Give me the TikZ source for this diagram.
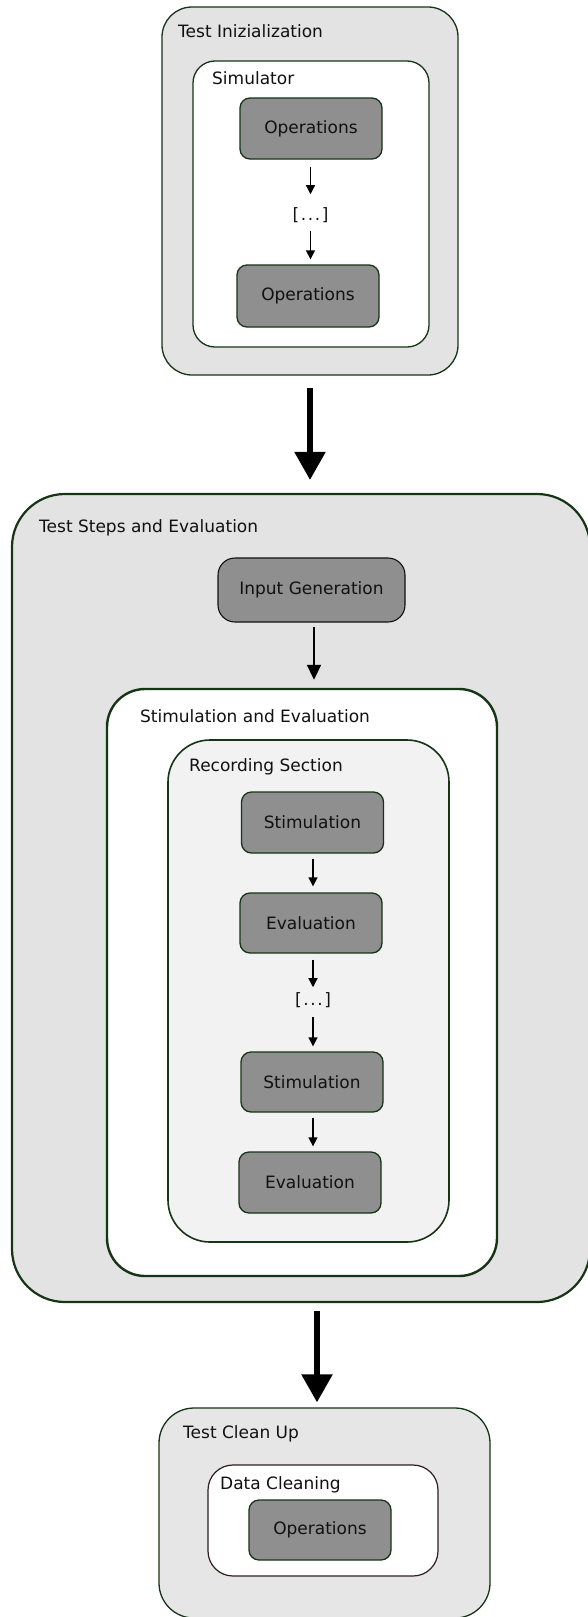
\documentclass[tikz,border=0pt]{standalone}
\usepackage{fontspec}
\setmainfont{DejaVu Sans}
\usetikzlibrary{arrows.meta}

\definecolor{frame}{RGB}{22,52,22}
\definecolor{brownframe}{RGB}{48,28,28}
\definecolor{opfill}{RGB}{143,143,143}
\definecolor{outerfill}{RGB}{227,227,227}
\definecolor{cleanfill}{RGB}{230,230,230}
\definecolor{recfill}{RGB}{242,242,242}
\definecolor{ink}{RGB}{17,17,17}

\newcommand{\skipdots}{[\kern1.6pt.\kern1.6pt.\kern1.6pt.\kern1.6pt]}

\tikzset{
  every node/.style={font=\fontsize{17}{20}\selectfont, text=ink},
  container/.style={draw=frame, rectangle, inner sep=0pt},
  opbox/.style={draw=frame, fill=opfill, line width=1.3pt, rounded corners=10pt,
    minimum width=142pt, minimum height=61pt, inner sep=0pt},
  title/.style={anchor=base west, inner sep=0pt},
  ellipsis/.style={inner sep=0pt},
  sarrow/.style={line width=1.3pt, -{Triangle[width=9pt,length=9pt]}},
  marrow/.style={line width=2pt, -{Triangle[width=14pt,length=15pt]}},
  barrow/.style={line width=5.5pt, -{Triangle[width=30pt,length=28pt]}},
}

\begin{document}
\begin{tikzpicture}[x=1pt,y=-1pt]
\useasboundingbox (0,0) rectangle (587,1617);

% ---------- Test initialization ----------
\node[container, fill=outerfill, line width=1.3pt, rounded corners=30pt,
      minimum width=296pt, minimum height=368pt] (init) at (310,191) {};
\node[title] (initlbl) at (178,37) {Test Inizialization};
\node[container, fill=white, line width=1.3pt, rounded corners=22pt,
      minimum width=236pt, minimum height=286pt] (sim) at (311,204) {};
\node[title] (simlbl) at (212,84) {Simulator};
\node[opbox] (op1) at (311,128.5) {Operations};
\node[ellipsis] (dots1) at (310.5,215) {\skipdots};
\node[opbox, minimum height=62pt] (op2) at (308,296) {Operations};
\draw[sarrow, shorten <=7pt, shorten >=13pt] (dots1.north |- op1.south) -- (dots1.north);
\draw[sarrow, shorten <=8pt, shorten >=5pt] (dots1.south) -- (dots1.south |- op2.north);

% ---------- Test steps and evaluation ----------
\node[container, fill=outerfill, line width=2.2pt, rounded corners=53pt,
      minimum width=578pt, minimum height=808pt] (steps) at (301,898) {};
\node[title] (stepslbl) at (39,532) {Test Steps and Evaluation};
\node[opbox, rounded corners=17pt, minimum width=187pt, minimum height=64pt,
      line width=1.1pt, draw=ink] (input) at (311.5,590) {Input Generation};
\node[container, fill=white, line width=2.4pt, rounded corners=38pt,
      minimum width=390pt, minimum height=587pt] (stimeval) at (302,982.5) {};
\node[title] (stimevallbl) at (140,722) {Stimulation and Evaluation};
\node[container, fill=recfill, line width=1.6pt, rounded corners=42pt,
      minimum width=281pt, minimum height=502pt] (rec) at (308.5,991) {};
\node[title] (reclbl) at (189,771) {Recording Section};

\node[opbox] (stim1) at (312.5,822.5) {Stimulation};
\node[opbox, minimum height=60pt] (eval1) at (311,923) {Evaluation};
\node[ellipsis] (dots2) at (313,1000) {\skipdots};
\node[opbox, minimum height=60pt] (stim2) at (312,1082) {Stimulation};
\node[opbox] (eval2) at (310,1182.5) {Evaluation};

\coordinate (igout) at ([xshift=2.5pt]input.south);
\draw[marrow, shorten <=4pt, shorten >=8pt] (igout) -- (igout |- stimeval.north);
\draw[sarrow, shorten <=5pt, shorten >=6pt] (dots2.north |- stim1.south) -- (dots2.north |- eval1.north);
\draw[sarrow, shorten <=6pt, shorten >=5pt] (dots2.north |- eval1.south) -- (dots2.north);
\draw[sarrow, shorten <=9pt, shorten >=5pt] (dots2.south) -- (dots2.south |- stim2.north);
\draw[sarrow, shorten <=5pt, shorten >=5pt] (dots2.south |- stim2.south) -- (dots2.south |- eval2.north);

% ---------- Test clean up ----------
\node[container, fill=cleanfill, line width=1.3pt, rounded corners=35pt,
      minimum width=331pt, minimum height=210pt] (clean) at (324.5,1513) {};
\node[title] (cleanlbl) at (183,1438) {Test Clean Up};
\node[container, draw=brownframe, fill=white, line width=1.2pt, rounded corners=25pt,
      minimum width=230pt, minimum height=111pt] (datacl) at (323,1520.5) {};
\node[title] (dataclbl) at (220,1489) {Data Cleaning};
\node[opbox, minimum height=60pt] (op3) at (320,1530) {Operations};

% ---------- phase transitions ----------
\draw[barrow, shorten <=12pt, shorten >=13pt] (init.south) -- (init.south |- steps.north);
\coordinate (stepsout) at ([xshift=317pt]0,0 |- steps.south);
\draw[barrow, shorten <=8pt, shorten >=5pt] (stepsout) -- (stepsout |- clean.north);
\end{tikzpicture}
\end{document}
